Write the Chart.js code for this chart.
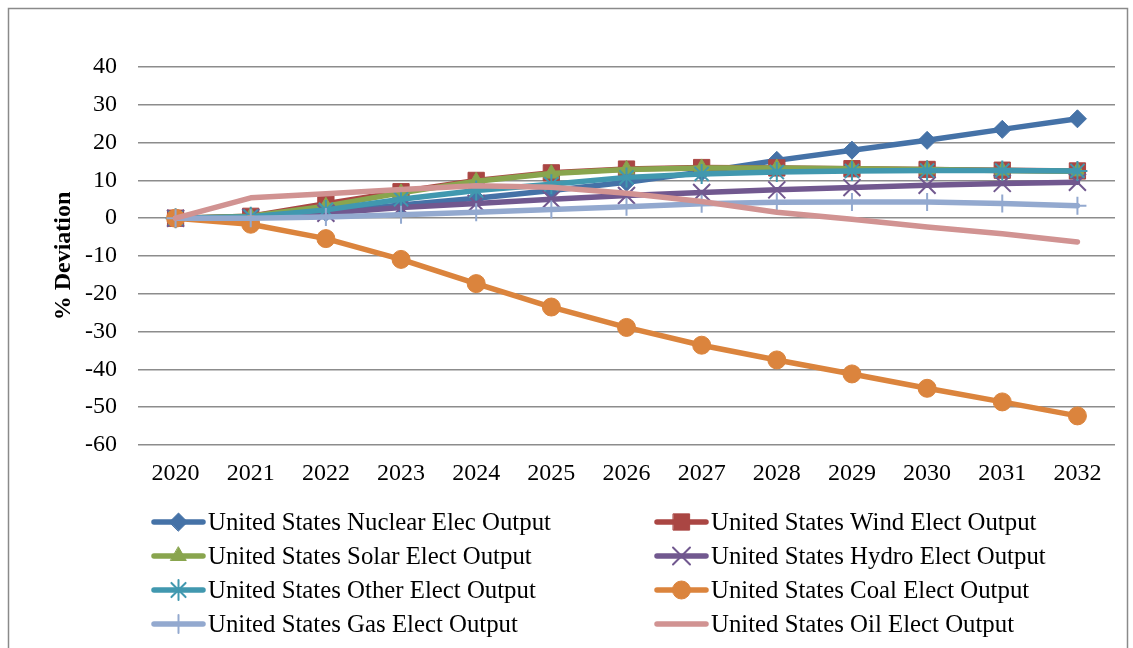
<!DOCTYPE html>
<html>
<head>
<meta charset="utf-8">
<script src="https://cdn.jsdelivr.net/npm/chart.js@4.4.1/dist/chart.umd.min.js"></script>
<style>
  html, body { margin: 0; padding: 0; background: #ffffff; }
  #wrap { position: relative; width: 1133px; height: 648px; }
</style>
</head>
<body>
<div id="wrap"><canvas id="chart"></canvas></div>
<script>
// Categories
const years = ['2020','2021','2022','2023','2024','2025','2026','2027','2028','2029','2030','2031','2032'];

// % deviation by generation source
const nuclear = [0, 0.3, 1.5, 3.5, 5.3, 7.3, 9.5, 12.2, 15.3, 18.0, 20.6, 23.5, 26.3];
const wind    = [0, 0.5, 3.8, 7.0, 10.0, 12.0, 13.0, 13.4, 13.3, 13.1, 12.9, 12.7, 12.5];
const solar   = [0, 0.5, 3.2, 6.7, 9.8, 11.8, 12.9, 13.3, 13.3, 13.1, 12.9, 12.6, 12.4];
const hydro   = [0, 0.2, 1.3, 2.8, 3.9, 5.0, 6.0, 6.8, 7.5, 8.1, 8.7, 9.2, 9.5];
const other   = [0, 0.4, 2.2, 5.0, 7.3, 9.0, 10.8, 11.7, 12.2, 12.5, 12.6, 12.6, 12.5];
const coal    = [0, -1.6, -5.4, -10.9, -17.3, -23.5, -28.9, -33.6, -37.5, -41.2, -45.0, -48.6, -52.3];
const gas     = [0, 0.0, 0.3, 0.9, 1.6, 2.3, 3.0, 3.8, 4.2, 4.3, 4.3, 3.9, 3.3];
const oil     = [0, 5.4, 6.5, 7.6, 8.6, 8.2, 6.6, 4.4, 1.6, -0.3, -2.3, -4.1, -6.3];

// Series labels
const seriesNames = [
  'United States Nuclear Elec Output',
  'United States Wind Elect Output',
  'United States Solar Elect Output',
  'United States Hydro Elect Output',
  'United States Other Elect Output',
  'United States Coal Elect Output',
  'United States Gas Elect Output',
  'United States Oil Elect Output'
];

// Y axis range
const yMin = -60, yMax = 40, yStep = 10;
const yTitle = '% Deviation';

const FONT = "'Liberation Serif', 'Times New Roman', serif";

function series(i, data, color, style, radius, bw) {
  return {
    label: seriesNames[i],
    data: data,
    borderColor: color,
    backgroundColor: color,
    borderWidth: 5.5,
    borderJoinStyle: 'round',
    borderCapStyle: 'round',
    pointStyle: style,
    pointRadius: radius,
    pointHoverRadius: radius,
    pointBackgroundColor: color,
    pointBorderColor: color,
    pointBorderWidth: bw,
    tension: 0,
    order: 7 - i
  };
}

const datasets = [
  series(0, nuclear, '#4572A7', 'rectRot', 9, 1),
  series(1, wind,    '#AA4643', 'rect', 11.5, 1),
  series(2, solar,   '#89A54E', 'triangle', 9, 1),
  series(3, hydro,   '#71588F', 'crossRot', 12, 2),
  series(4, other,   '#4198AF', 'star', 10, 2),
  series(5, coal,    '#DB843D', 'circle', 9, 1),
  series(6, gas,     '#93A9CF', 'cross', 9, 2),
  series(7, oil,     '#D19392', 'circle', 0, 0)
];

// Frame around the whole figure
const framePlugin = {
  id: 'frame',
  beforeDraw(chart) {
    const ctx = chart.ctx;
    ctx.save();
    ctx.fillStyle = '#ffffff';
    ctx.fillRect(0, 0, chart.width, chart.height);
    ctx.strokeStyle = '#8a8a8a';
    ctx.lineWidth = 1.5;
    ctx.strokeRect(8.5, 8.5, 1119, 700);
    ctx.restore();
  }
};

// Two-column legend under the plot
const legendPlugin = {
  id: 'twoColLegend',
  afterDraw(chart) {
    const ctx = chart.ctx;
    const colX = [152, 655];
    const rowY0 = 522, rowGap = 34, lineLen = 53;
    ctx.save();
    chart.data.datasets.forEach((ds, i) => {
      const x0 = colX[i % 2];
      const y = rowY0 + Math.floor(i / 2) * rowGap;
      ctx.strokeStyle = ds.borderColor;
      ctx.lineWidth = ds.borderWidth;
      ctx.lineCap = 'round';
      ctx.beginPath();
      ctx.moveTo(x0 + 2, y);
      ctx.lineTo(x0 + lineLen - 2, y);
      ctx.stroke();
      if (ds.pointRadius > 0) {
        ctx.fillStyle = ds.pointBackgroundColor;
        ctx.strokeStyle = ds.pointBorderColor;
        ctx.lineWidth = ds.pointBorderWidth;
        Chart.helpers.drawPoint(ctx, {
          pointStyle: ds.pointStyle,
          rotation: 0,
          radius: ds.pointRadius,
          borderWidth: ds.pointBorderWidth
        }, x0 + lineLen / 2, y);
      }
      ctx.fillStyle = '#000000';
      ctx.font = '24.8px ' + FONT;
      ctx.textAlign = 'left';
      ctx.textBaseline = 'middle';
      ctx.fillText(ds.label, x0 + lineLen + 3, y + 1);
    });
    ctx.restore();
  }
};

new Chart(document.getElementById('chart'), {
  type: 'line',
  data: { labels: years, datasets: datasets },
  options: {
    responsive: true,
    maintainAspectRatio: false,
    devicePixelRatio: 1,
    animation: false,
    layout: { padding: { left: 49, top: 67, right: 18, bottom: 163 } },
    plugins: {
      legend: { display: false },
      tooltip: { enabled: false }
    },
    scales: {
      x: {
        offset: true,
        grid: { display: false, drawTicks: false },
        border: { display: false },
        ticks: {
          color: '#000000',
          padding: 14,
          maxRotation: 0,
          autoSkip: false,
          font: { family: FONT, size: 24 }
        },
        afterFit(scale) { scale.height = 40; }
      },
      y: {
        min: yMin,
        max: yMax,
        grid: { color: '#8c8c8c', lineWidth: 1.5, drawTicks: false },
        border: { display: false },
        ticks: {
          stepSize: yStep,
          color: '#000000',
          padding: 21,
          font: { family: FONT, size: 24 }
        },
        title: {
          display: true,
          text: yTitle,
          color: '#000000',
          padding: 0,
          font: { family: FONT, size: 24, weight: 'bold' }
        },
        afterFit(scale) { scale.width = 89; }
      }
    }
  },
  plugins: [framePlugin, legendPlugin]
});
</script>
</body>
</html>
